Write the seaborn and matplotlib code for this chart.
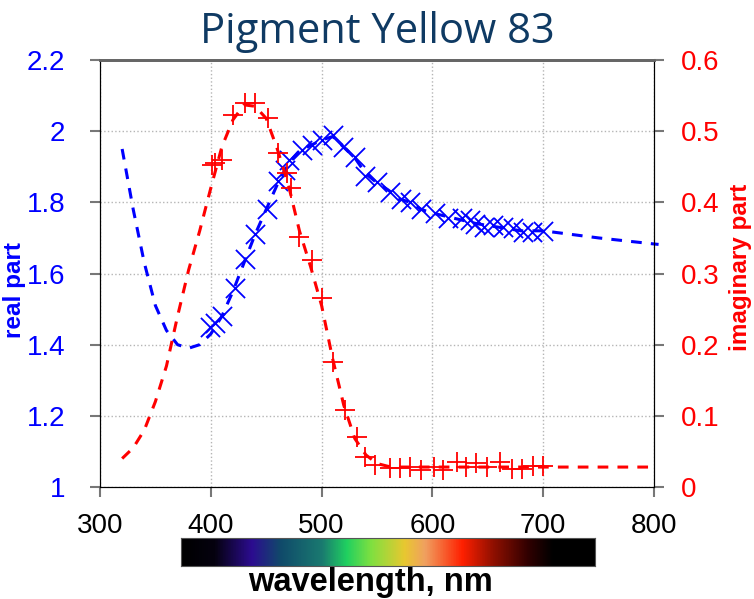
import matplotlib
matplotlib.use("Agg")
import matplotlib.pyplot as plt
from matplotlib.colors import LinearSegmentedColormap
import numpy as np
import pandas as pd
import seaborn as sns

# model curves (dashed)
model_wl = [320, 330, 340, 350, 360, 370, 380, 390, 400, 410, 420, 430, 440, 450,
            460, 470, 480, 490, 500, 510, 520, 530, 540, 550, 560, 570, 580, 590,
            600, 620, 640, 660, 680, 700, 750, 800, 810]
model_n = [1.95, 1.78, 1.63, 1.51, 1.44, 1.40, 1.39, 1.40, 1.43, 1.48, 1.55, 1.63,
           1.71, 1.78, 1.85, 1.91, 1.945, 1.96, 1.975, 1.985, 1.955, 1.925, 1.88,
           1.855, 1.835, 1.81, 1.80, 1.78, 1.77, 1.755, 1.74, 1.73, 1.72, 1.72,
           1.70, 1.683, 1.68]
model_k = [0.04, 0.055, 0.08, 0.12, 0.17, 0.24, 0.305, 0.36, 0.42, 0.478, 0.516,
           0.537, 0.535, 0.518, 0.475, 0.425, 0.36, 0.31, 0.255, 0.18, 0.115,
           0.068, 0.045, 0.033, 0.029, 0.028, 0.028, 0.028, 0.028, 0.028, 0.028,
           0.028, 0.028, 0.028, 0.028, 0.028, 0.028]

# measured points
wl_re = [399, 404, 410, 422, 431, 440, 451, 461, 467, 471, 482, 491, 500, 510, 519,
         530, 539, 550, 562, 572, 580, 590, 602, 614, 627, 634, 638, 647, 655, 664,
         673, 682, 690, 700]
n_re = [1.45, 1.46, 1.48, 1.56, 1.64, 1.71, 1.78, 1.86, 1.89, 1.92, 1.947, 1.96,
        1.975, 1.99, 1.955, 1.927, 1.875, 1.857, 1.83, 1.81, 1.80, 1.78, 1.77,
        1.755, 1.755, 1.75, 1.74, 1.73, 1.735, 1.73, 1.727, 1.716, 1.716, 1.72]

wl_im = [401, 404, 410, 420, 431, 440, 452, 461, 469, 472, 480, 491, 500, 510, 521,
         532, 539, 548, 562, 571, 580, 590, 601, 610, 622, 630, 639, 649, 661, 672,
         681, 691, 700]
k_im = [0.452, 0.455, 0.46, 0.523, 0.54, 0.54, 0.518, 0.469, 0.441, 0.42, 0.351,
        0.319, 0.266, 0.176, 0.108, 0.07, 0.042, 0.031, 0.027, 0.027, 0.028, 0.024,
        0.028, 0.024, 0.035, 0.028, 0.034, 0.028, 0.035, 0.025, 0.025, 0.030, 0.030]

x_ticks = [300, 400, 500, 600, 700, 800]
left_ticks = [1, 1.2, 1.4, 1.6, 1.8, 2, 2.2]
right_ticks = [0, 0.1, 0.2, 0.3, 0.4, 0.5, 0.6]

# spectrum strip
spec_pos = [0.0, 0.08, 0.17, 0.24, 0.34, 0.40, 0.46, 0.54, 0.59, 0.68, 0.755, 0.84, 0.9, 1.0]
spec_col = ["#000000", "#05020f", "#2c0c90", "#104a6a", "#1a7a70", "#20d060",
            "#80e040", "#e8c830", "#f0a060", "#ff2000", "#901000", "#300000",
            "#000000", "#000000"]

df_model = pd.DataFrame({"wl": model_wl, "n": model_n, "k": model_k})
df_re = pd.DataFrame({"wl": wl_re, "n": n_re})
df_im = pd.DataFrame({"wl": wl_im, "k": k_im})

sns.set_style("white")
plt.rcParams["font.family"] = ["Liberation Sans", "DejaVu Sans"]

fig = plt.figure(figsize=(7.54, 5.99), dpi=100)
ax = fig.add_axes([0.1326, 0.187, 0.7348, 0.7128])
ax2 = ax.twinx()

blue = "#0000ff"
red = "#ff0000"

sns.lineplot(data=df_model[df_model.wl <= 800], x="wl", y="n", ax=ax, color=blue,
             lw=2.2, linestyle=(0, (3.5, 3)))
sns.lineplot(data=df_model[df_model.wl >= 800], x="wl", y="n", ax=ax, color=blue,
             lw=2.2, linestyle=(0, (1.5, 3)), clip_on=False)
sns.scatterplot(data=df_re, x="wl", y="n", ax=ax, color=blue, marker="x",
                s=190, linewidth=1.3, zorder=3)

sns.lineplot(data=df_model[df_model.wl <= 800], x="wl", y="k", ax=ax2, color=red,
             lw=2.2, linestyle=(0, (3.5, 3)))
sns.scatterplot(data=df_im, x="wl", y="k", ax=ax2, color=red, marker="+",
                s=220, linewidth=1.3, zorder=3)

ax.set_xlim(300, 800)
ax.set_ylim(1, 2.2)
ax2.set_ylim(0, 0.6)
ax.set_xticks(x_ticks)
ax.set_yticks(left_ticks)
ax.set_yticklabels([f"{v:g}" for v in left_ticks])
ax2.set_yticks(right_ticks)
ax2.set_yticklabels([f"{v:g}" for v in right_ticks])

ax.grid(True, color="#b5b5b5", linestyle=":", linewidth=1)
ax.tick_params(axis="x", labelsize=20, colors="#777777", labelcolor="black",
               length=7, width=1.5, direction="out", bottom=True, pad=12)
ax.tick_params(axis="y", labelsize=20, colors="#777777", labelcolor=blue,
               length=7, width=1.5, direction="out", left=True, pad=18)
ax2.tick_params(axis="y", labelsize=20, colors="#777777", labelcolor=red,
                length=7, width=1.5, direction="out", right=True, pad=12)

for a in (ax, ax2):
    a.spines["left"].set_color("black")
    a.spines["right"].set_color("black")
    a.spines["bottom"].set_color("black")
    a.spines["top"].set_color("#666666")
    a.spines["top"].set_linewidth(2)

ax.set_xlabel("")
ax.set_ylabel("real part", color=blue, fontsize=17.5, fontweight="bold")
ax2.set_ylabel("imaginary part", color=red, fontsize=17.5, fontweight="bold")
ax.yaxis.set_label_coords(-0.133, 0.461)
ax2.yaxis.set_label_coords(1.135, 0.515)

fig.text(0.5, 0.946, "Pigment Yellow 83", ha="center", va="center",
         fontsize=30, color="#0f3a63", family=["Open Sans", "DejaVu Sans"])

# spectrum colour bar
cmap = LinearSegmentedColormap.from_list("spec", list(zip(spec_pos, spec_col)))
cax = fig.add_axes([0.240, 0.055, 0.549, 0.047])
cax.imshow(np.linspace(0, 1, 512)[None, :], aspect="auto", cmap=cmap)
cax.set_xticks([])
cax.set_yticks([])
for s in cax.spines.values():
    s.set_color("#555555")
    s.set_linewidth(0.8)
fig.text(0.491, 0.028, "wavelength, nm", ha="center", va="center",
         fontsize=23.5, fontweight="bold", color="black")

plt.savefig("out.png", dpi=100)
plt.close()
